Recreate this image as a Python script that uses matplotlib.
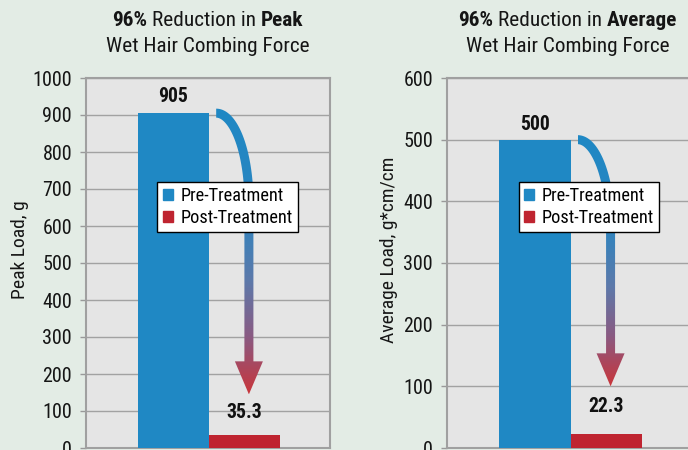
import os
import numpy as np
import matplotlib
matplotlib.use("Agg")
import matplotlib.pyplot as plt
from matplotlib import font_manager
from matplotlib.font_manager import FontProperties
from matplotlib.colors import LinearSegmentedColormap
from matplotlib.patches import Polygon

# data
categories = ["Pre-Treatment", "Post-Treatment"]
peak_load = [905, 35.3]
avg_load = [500, 22.3]
value_text = [["905", "35.3"], ["500", "22.3"]]
title_line1 = [[("96%", True), ("Reduction in", False), ("Peak", True)],
               [("96%", True), ("Reduction in", False), ("Average", True)]]
title_line2 = "Wet Hair Combing Force"
ylabels = ["Peak Load, g", "Average Load, g*cm/cm"]
yticks = [np.arange(0, 1001, 100), np.arange(0, 601, 100)]

BLUE = '#1f88c4'
RED = '#bf2430'
FIG_BG = '#e3ece5'
AX_BG = '#e5e5e5'
TXT = '#151515'
arrow_cmap = LinearSegmentedColormap.from_list(
    'arr', [(0.0, '#1f88c4'), (0.35, '#2c85c0'), (0.6, '#5d79aa'),
            (0.8, '#8a5a82'), (1.0, '#c8363c')])

# look for a condensed face, the original uses a narrow sans
files = {os.path.basename(f.fname): f.fname for f in font_manager.fontManager.ttflist}
pairs = [('LiberationSansNarrow-Regular.ttf', 'LiberationSansNarrow-Bold.ttf'),
         ('RobotoCondensed-Regular.ttf', 'RobotoCondensed-Bold.ttf'),
         ('NotoSans-Condensed.ttf', 'NotoSans-CondensedBold.ttf'),
         ('OpenSans-CondensedRegular.ttf', 'OpenSans-CondensedBold.ttf'),
         ('DejaVuSansCondensed.ttf', 'DejaVuSansCondensed-Bold.ttf')]
REG_FILE = BOLD_FILE = None
for reg, bold in pairs:
    if reg in files and bold in files:
        REG_FILE, BOLD_FILE = files[reg], files[bold]
        break
COND = REG_FILE is not None


def fprop(size, bold=False):
    if COND:
        return FontProperties(fname=BOLD_FILE if bold else REG_FILE, size=size)
    return FontProperties(family=['Liberation Sans', 'DejaVu Sans'],
                          weight='bold' if bold else 'normal', size=size)


fig = plt.figure(figsize=(6.88, 4.5), dpi=100)
fig.patch.set_facecolor(FIG_BG)
renderer = fig.canvas.get_renderer()


def text_width(s, size, bold=False):
    t = fig.text(0, 0, s, fontproperties=fprop(size, bold))
    w = t.get_window_extent(renderer).width
    t.remove()
    return w


def fit_size(s, target_px, cap, bold=False):
    k = 1.03 if COND else 1.1
    return min(cap, 10 * target_px / text_width(s, 10, bold) * k)


title_size = fit_size(title_line2, 197, 17.5)
tick_size = fit_size("1000", 38, 15)
value_size = fit_size("905", 29, 15, True)
legend_size = fit_size("Pre-Treatment", 99, 14)
ylabel_size = fit_size("Peak Load, g", 96, 14)


def rich_line(xc, y, pieces, size):
    gap = text_width("a a", size) - text_width("aa", size)
    widths = [text_width(s, size, b) for s, b in pieces]
    total = sum(widths) + gap * (len(pieces) - 1)
    x = xc * 688 - total / 2
    for (s, b), w in zip(pieces, widths):
        fig.text(x / 688, y, s, fontproperties=fprop(size, b), color=TXT,
                 ha='left', va='center')
        x += w + gap


def gradient_arrow(ax, x0, y_start, x1, y_bend, y_tip,
                   shaft_px=9, head_w_px=28, head_h_px=33):
    tr = ax.transData
    o = tr.transform((0, 0))
    sx = tr.transform((1, 0))[0] - o[0]
    sy = tr.transform((0, 1))[1] - o[1]
    t = np.linspace(0, np.pi / 2, 90)
    xs = x0 + (x1 - x0) * np.sin(t)
    ys = y_bend + (y_start - y_bend) * np.cos(t)
    P = tr.transform(np.column_stack([xs, ys]))
    tip = tr.transform((x1, y_tip))
    base_y = tip[1] + head_h_px
    P = np.vstack([P, [P[-1, 0], base_y]])
    d = np.column_stack([(x1 - x0) * sx * np.cos(t),
                         -(y_start - y_bend) * sy * np.sin(t)])
    d = np.vstack([d, [0, -1]])
    d /= np.linalg.norm(d, axis=1)[:, None]
    n = np.column_stack([-d[:, 1], d[:, 0]])
    A = P + n * shaft_px / 2
    B = P - n * shaft_px / 2
    cx = P[-1, 0]
    head = np.array([[cx + head_w_px / 2, base_y], [tip[0], tip[1]],
                     [cx - head_w_px / 2, base_y]])
    outline = tr.inverted().transform(np.vstack([A, head, B[::-1]]))
    poly = Polygon(outline, closed=True, facecolor='none', edgecolor='none')
    ax.add_patch(poly)
    ytop = outline[:, 1].max()
    grad = np.linspace(1.0, (y_start - ytop) / (y_start - y_tip), 200)[:, None]
    im = ax.imshow(grad, extent=[outline[:, 0].min(), outline[:, 0].max(), y_tip, ytop],
                   origin='lower', aspect='auto', cmap=arrow_cmap,
                   vmin=0, vmax=1, zorder=4, interpolation='bilinear')
    im.set_clip_path(poly)


positions = [[86 / 688, 2 / 450, 244 / 688, 370 / 450],
             [447 / 688, 2 / 450, 245 / 688, 370 / 450]]
title_x = [208 / 688, 568 / 688]
label_x = [-0.235, -0.2]
label_offsets = [[12, 16], [11, 20]]
arrow_tips = [145, 100]
datasets = [peak_load, avg_load]

for i in range(2):
    ax = fig.add_axes(positions[i])
    ax.set_facecolor(AX_BG)
    vals = datasets[i]
    ymax = yticks[i][-1]
    ax.bar([0, 1], vals, width=1.0, color=[BLUE, RED], zorder=3)
    ax.set_xlim(-1.23, 2.2)
    ax.set_ylim(0, ymax)
    ax.set_yticks(yticks[i])
    ax.set_xticks([])
    ax.set_axisbelow(True)
    ax.yaxis.grid(True, color='#a2a2a2', linewidth=1.0)
    for sp in ax.spines.values():
        sp.set_color('#a0a0a0')
        sp.set_linewidth(1.5)
    ax.tick_params(axis='y', length=4, width=1, color='#999999', pad=6,
                   labelcolor=TXT)
    for lab in ax.get_yticklabels():
        lab.set_fontproperties(fprop(tick_size))
    ax.set_ylabel(ylabels[i], fontproperties=fprop(ylabel_size), color=TXT)
    ax.yaxis.set_label_coords(label_x[i], 0.535)

    for j in range(2):
        ax.annotate(value_text[i][j], (j, vals[j]), xytext=(0, label_offsets[i][j]),
                    textcoords='offset points', ha='center', va='center',
                    fontproperties=fprop(value_size, True), color='#111111', zorder=5)

    handles = [plt.Rectangle((0, 0), 1, 1, color=BLUE),
               plt.Rectangle((0, 0), 1, 1, color=RED)]
    leg = ax.legend(handles, categories, loc='upper left',
                    bbox_to_anchor=(0.293, 0.72), borderaxespad=0,
                    prop=fprop(legend_size), fancybox=False, framealpha=1,
                    edgecolor='black', handlelength=0.55, handleheight=0.55,
                    handletextpad=0.4, labelspacing=0.2, borderpad=0.3)
    leg.get_frame().set_linewidth(1.0)
    leg.set_zorder(6)

    # curved arrow from the pre bar top down to the post bar
    gradient_arrow(ax, 0.6, vals[0], 1.06, vals[0] - 0.24 * ymax, arrow_tips[i])
    ax.set_xlim(-1.23, 2.2)
    ax.set_ylim(0, ymax)

    rich_line(title_x[i], 1 - 20 / 450, title_line1[i], title_size)
    fig.text(title_x[i], 1 - 47 / 450, title_line2, ha='center', va='center',
             fontproperties=fprop(title_size), color=TXT)

fig.savefig('out.png', dpi=100, facecolor=FIG_BG)
